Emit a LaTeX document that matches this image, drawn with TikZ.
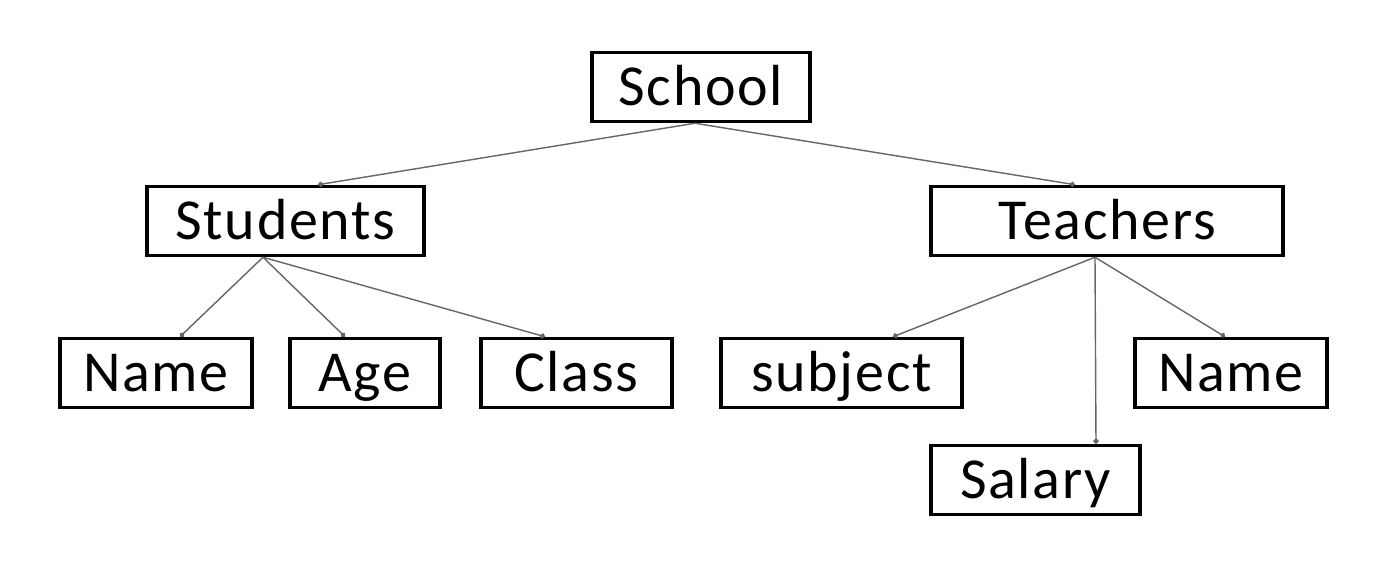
\documentclass[tikz,border=0pt]{standalone}
\usepackage{fontspec}
\setmainfont{Carlito}[LetterSpace=3]
\usetikzlibrary{arrows.meta}
\begin{document}
\begin{tikzpicture}[
    box/.style={draw, line width=2pt, minimum height=1.38cm, inner sep=0pt,
        text height=21pt, text depth=0pt, font=\fontsize{33}{38}\selectfont},
    link/.style={draw=black!60, line width=0.8pt, -{Circle[length=3pt]}}
]
    \useasboundingbox (0,0) rectangle (27.9,11.44);
    % Raiz
    \node[box, minimum width=4.36cm] (school) at (14.02, 9.70) {School};
    % Segundo nivel
    \node[box, minimum width=5.54cm] (students) at (5.71, 7.02) {Students};
    \node[box, minimum width=7.04cm] (teachers) at (22.14, 7.02) {Teachers};
    % Hojas
    \node[box, minimum width=3.84cm] (name1) at (3.12, 3.98) {Name};
    \node[box, minimum width=3.00cm] (age) at (7.30, 3.98) {Age};
    \node[box, minimum width=3.82cm] (class) at (11.53, 3.98) {Class};
    \node[box, minimum width=4.82cm] (subject) at (16.83, 3.98) {subject};
    \node[box, minimum width=3.84cm] (name2) at (24.62, 3.98) {Name};
    \node[box, minimum width=4.18cm] (salary) at (20.71, 1.84) {Salary};
    % Conexiones
    \draw[link] ([xshift=-0.12cm]school.south) -- ([xshift=0.65cm]students.north);
    \draw[link] ([xshift=-0.12cm]school.south) -- ([xshift=-0.64cm]teachers.north);
    \draw[link] ([xshift=-0.45cm]students.south) -- ([xshift=0.48cm]name1.north);
    \draw[link] ([xshift=-0.45cm]students.south) -- ([xshift=-0.40cm]age.north);
    \draw[link] ([xshift=-0.45cm]students.south) -- ([xshift=-0.63cm]class.north);
    \draw[link] ([xshift=-0.24cm]teachers.south) -- ([xshift=1.03cm]subject.north);
    \draw[link] ([xshift=-0.24cm]teachers.south) -- ([xshift=1.21cm]salary.north);
    \draw[link] ([xshift=-0.24cm]teachers.south) -- ([xshift=-0.12cm]name2.north);
\end{tikzpicture}
\end{document}
